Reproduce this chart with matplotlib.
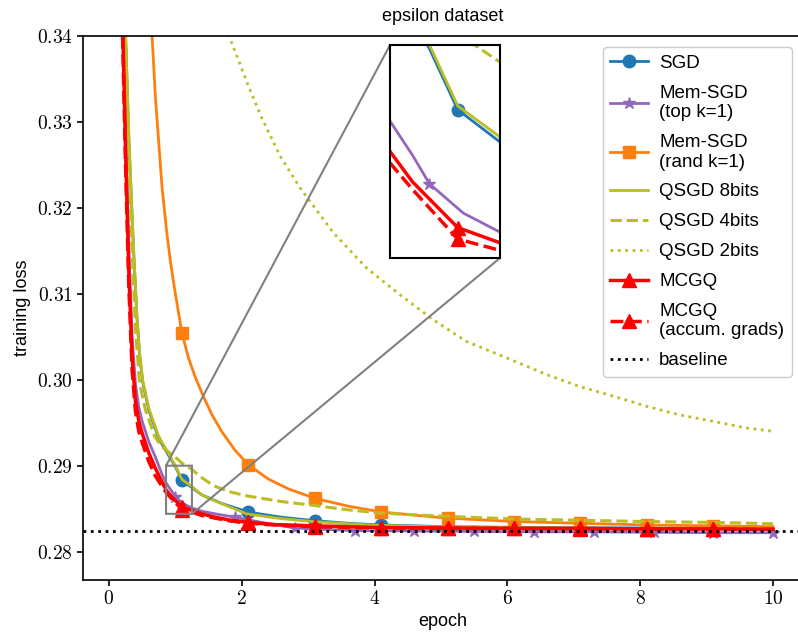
import numpy as np
import matplotlib
matplotlib.use("Agg")
import matplotlib.pyplot as plt
from matplotlib.ticker import FuncFormatter

plt.rcParams['font.family'] = ['Liberation Sans', 'DejaVu Sans']
plt.rcParams['mathtext.fontset'] = 'cm'

# ---------------- data ----------------
sgd_x = [0.2, 0.25, 0.3, 0.37, 0.42, 0.46, 0.51, 0.6, 0.74, 0.8, 0.9, 1.0, 1.1, 1.25, 1.4, 1.7, 2.1, 2.6, 3.1, 3.6,
         4.1, 5.1, 6.1, 7.1, 8.1, 9.1, 10.0]
sgd_y = [0.3560, 0.3400, 0.3280, 0.3152, 0.3075, 0.3030, 0.2997, 0.2965, 0.2934, 0.2925, 0.2912, 0.2899, 0.2883,
         0.28745, 0.2866, 0.2856, 0.2846, 0.2840, 0.2836, 0.2833, 0.2831, 0.2829, 0.28283, 0.28278, 0.28275,
         0.28272, 0.2827]

memtop_x = [0.2, 0.25, 0.3, 0.35, 0.4, 0.45, 0.5, 0.6, 0.7, 0.8, 0.86, 0.94, 1.0, 1.12, 1.25, 1.4, 1.6, 1.9, 2.3,
            2.8, 3.2, 3.7, 4.6, 5.5, 6.4, 7.3, 8.2, 9.1, 10.0]
memtop_y = [0.3470, 0.3300, 0.3155, 0.3050, 0.2995, 0.2968, 0.2952, 0.2928, 0.2910, 0.2890, 0.2880, 0.2871,
            0.28635, 0.28558, 0.28508, 0.2847, 0.2844, 0.2840, 0.2834, 0.28275, 0.2826, 0.28245, 0.2824,
            0.28235, 0.2823, 0.2823, 0.28225, 0.2822, 0.2822]

memrand_x = [0.55, 0.6, 0.65, 0.7, 0.8, 0.87, 0.93, 1.0, 1.1, 1.2, 1.3, 1.42, 1.55, 1.7, 1.9, 2.1, 2.4, 2.7, 3.1,
             3.6, 4.1, 4.8, 5.1, 6.1, 7.1, 8.1, 9.1, 10.0]
memrand_y = [0.3630, 0.3496, 0.3400, 0.3329, 0.3224, 0.3172, 0.31355, 0.31003, 0.3054, 0.3025, 0.3003, 0.2981,
             0.29596, 0.29396, 0.29179, 0.2901, 0.28845, 0.28731, 0.2862, 0.2853, 0.28461, 0.2841, 0.2839,
             0.2835, 0.2833, 0.2831, 0.2830, 0.2829]

q8_x = [0.2, 0.25, 0.3, 0.37, 0.42, 0.46, 0.51, 0.6, 0.74, 0.8, 0.9, 1.0, 1.1, 1.25, 1.4, 1.57, 2.07, 2.58, 3.08,
        3.58, 4.08, 4.83, 6.0, 8.0, 10.0]
q8_y = [0.3565, 0.3405, 0.3285, 0.3155, 0.3078, 0.3033, 0.2999, 0.2967, 0.2936, 0.2927, 0.2914, 0.2900, 0.2884,
        0.28758, 0.2866, 0.2860, 0.2844, 0.28385, 0.2835, 0.28325, 0.28305, 0.2829, 0.2828, 0.2827, 0.28265]

q4_x = [0.2, 0.25, 0.3, 0.35, 0.4, 0.46, 0.55, 0.69, 0.8, 0.9, 1.0, 1.1, 1.18, 1.25, 1.4, 1.57, 1.8, 2.07, 2.58,
        3.08, 3.58, 4.08, 4.58, 5.1, 6.1, 7.1, 8.1, 9.1, 10.0]
q4_y = [0.3560, 0.3400, 0.3265, 0.3150, 0.3060, 0.2997, 0.2965, 0.2934, 0.2922, 0.2916, 0.2910, 0.2903, 0.2899,
        0.28955, 0.2886, 0.2877, 0.2870, 0.2865, 0.28585, 0.28538, 0.28488, 0.28449, 0.2843, 0.2841, 0.2838,
        0.28365, 0.2835, 0.2834, 0.28325]

q2_x = [1.5, 1.81, 2.12, 2.3, 2.58, 2.88, 3.38, 3.88, 4.38, 4.88, 5.38, 5.99, 6.59, 7.09, 7.59, 8.1, 8.6, 9.1,
        9.6, 10.0]
q2_y = [0.3480, 0.3400, 0.3338, 0.3305, 0.3260, 0.3223, 0.3171, 0.3130, 0.3099, 0.3070, 0.30447, 0.30254,
        0.3006, 0.2992, 0.2981, 0.2969, 0.2959, 0.29516, 0.29439, 0.2940]

mcgq_x = [0.15, 0.2, 0.25, 0.3, 0.35, 0.4, 0.45, 0.5, 0.6, 0.7, 0.8, 0.86, 0.94, 1.02, 1.1, 1.25, 1.4, 1.6, 1.8,
          2.1, 2.5, 3.1, 4.1, 5.1, 6.1, 7.1, 8.1, 9.1, 10.0]
mcgq_y = [0.3620, 0.3440, 0.3270, 0.3125, 0.3025, 0.2975, 0.2952, 0.2938, 0.2915, 0.2897, 0.2881, 0.2872,
          0.2864, 0.2858, 0.2852, 0.2848, 0.2844, 0.2840, 0.2837, 0.2834, 0.28315, 0.2830, 0.2828, 0.28275,
          0.2827, 0.2827, 0.28265, 0.28265, 0.2826]

mcgqa_x = [0.15, 0.2, 0.25, 0.3, 0.35, 0.4, 0.45, 0.5, 0.6, 0.7, 0.8, 0.86, 0.94, 1.02, 1.1, 1.25, 1.4, 1.6, 1.8,
           2.1, 2.5, 3.1, 4.1, 5.1, 6.1, 7.1, 8.1, 9.1, 10.0]
mcgqa_y = [0.3600, 0.3420, 0.3250, 0.3108, 0.3010, 0.2963, 0.2940, 0.2927, 0.2905, 0.2888, 0.2876, 0.2869,
           0.2862, 0.28555, 0.2849, 0.2846, 0.2842, 0.2839, 0.2836, 0.2833, 0.2831, 0.2829, 0.28275, 0.2827,
           0.2827, 0.28265, 0.28265, 0.2826, 0.2826]

baseline = 0.28235

circle_marks = [1.1, 2.1, 3.1, 4.1, 5.1, 6.1, 7.1, 8.1, 9.1]
star_marks = [1.0, 1.9, 2.8, 3.7, 4.6, 5.5, 6.4, 7.3, 8.2, 9.1, 10.0]

y_ticks = [0.28, 0.29, 0.30, 0.31, 0.32, 0.33, 0.34]
x_ticks = [0, 2, 4, 6, 8, 10]


def marks(xs, mk):
    return [i for i, v in enumerate(xs) if any(abs(v - m) < 1e-9 for m in mk)]


series = [
    (sgd_x, sgd_y, dict(color='#1f77b4', ls='-', lw=2, marker='o', ms=9, markevery=marks(sgd_x, circle_marks)),
     'SGD'),
    (memtop_x, memtop_y, dict(color='#9467bd', ls='-', lw=2, marker='*', ms=9,
                              markevery=marks(memtop_x, star_marks)), 'Mem-SGD\n(top k=1)'),
    (memrand_x, memrand_y, dict(color='#ff7f0e', ls='-', lw=2, marker='s', ms=9,
                                markevery=marks(memrand_x, circle_marks)), 'Mem-SGD\n(rand k=1)'),
    (q8_x, q8_y, dict(color='#bcbd22', ls='-', lw=2), 'QSGD 8bits'),
    (q4_x, q4_y, dict(color='#bcbd22', ls='--', lw=2.2), 'QSGD 4bits'),
    (q2_x, q2_y, dict(color='#bcbd22', ls=':', lw=2), 'QSGD 2bits'),
    (mcgq_x, mcgq_y, dict(color='red', ls='-', lw=2.5, marker='^', ms=10,
                          markevery=marks(mcgq_x, circle_marks)), 'MCGQ'),
    (mcgqa_x, mcgqa_y, dict(color='red', ls='--', lw=2.5, marker='^', ms=10,
                            markevery=marks(mcgqa_x, circle_marks)), 'MCGQ\n(accum. grads)'),
]

fig = plt.figure(figsize=(7.98, 6.37), dpi=100)
W, H = 798, 637
L, R, T, B = 83, 803, 36, 580
ax = fig.add_axes([L / W, 1 - B / H, (R - L) / W, (B - T) / H])

for xs, ys, kw, lab in series:
    ax.plot(xs, ys, label=lab, **kw)
ax.axhline(baseline, color='black', ls=':', lw=2, label='baseline')

ax.set_xlim(-0.39, 10.45)
ax.set_ylim(0.2767, 0.34)
ax.set_xticks(x_ticks)
ax.set_yticks(y_ticks)
ax.xaxis.set_major_formatter(FuncFormatter(lambda v, p: r'$%d$' % v))
ax.yaxis.set_major_formatter(FuncFormatter(lambda v, p: r'$%.2f$' % v))
ax.tick_params(labelsize=14, width=1.2, length=4)
for s in ax.spines.values():
    s.set_linewidth(1.2)
ax.set_xlabel('epoch', fontsize=13, labelpad=3)
ax.set_ylabel('training loss', fontsize=13, labelpad=4)
ax.set_title('epsilon dataset', fontsize=13, pad=11)

leg = ax.legend(loc='upper right', fontsize=13.5, handlelength=2.0, labelspacing=0.68,
                handletextpad=0.6, borderaxespad=0.6, framealpha=1.0)

# inset
axins = ax.inset_axes([(390 - L) / (R - L), (B - 258) / (B - T), 110 / (R - L), 213 / (B - T)])
for xs, ys, kw, lab in series:
    axins.plot(xs, ys, **kw)
axins.axhline(baseline, color='black', ls=':', lw=2)
axins.set_xlim(0.86, 1.25)
axins.set_ylim(0.2844, 0.2900)
axins.set_xticks([])
axins.set_yticks([])
for s in axins.spines.values():
    s.set_linewidth(1.5)
ind = ax.indicate_inset_zoom(axins, edgecolor='gray', alpha=1.0, linewidth=1.5)
try:
    cons = ind.connectors
    for i, c in enumerate(cons):
        c.set_visible(i in (1, 2))
        c.set_color('gray')
        c.set_linewidth(1.5)
except Exception:
    pass

fig.savefig('out.png', dpi=100)
